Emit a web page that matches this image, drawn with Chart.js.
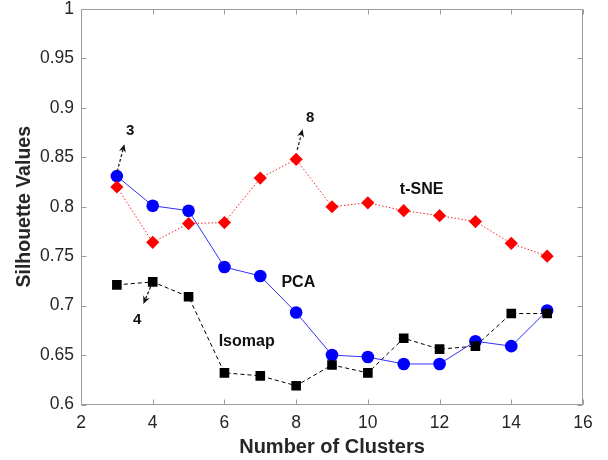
<!DOCTYPE html>
<html>
<head>
<meta charset="utf-8">
<script src="https://cdn.jsdelivr.net/npm/chart.js@4.4.1/dist/chart.umd.min.js"></script>
<style>
  html, body { margin: 0; padding: 0; background: #fff; }
  #wrap { width: 608px; height: 460px; }
</style>
</head>
<body>
<div id="wrap"><canvas id="chart" width="608" height="460"></canvas></div>
<script>
// values
const clusters = [3, 4, 5, 6, 7, 8, 9, 10, 11, 12, 13, 14, 15];
const pca    = [0.831, 0.801, 0.796, 0.739, 0.730, 0.693, 0.650, 0.648, 0.641, 0.641, 0.664, 0.659, 0.695];
const tsne   = [0.820, 0.764, 0.783, 0.784, 0.829, 0.848, 0.800, 0.804, 0.796, 0.791, 0.785, 0.763, 0.750];
const isomap = [0.721, 0.724, 0.709, 0.632, 0.629, 0.619, 0.640, 0.632, 0.667, 0.656, 0.659, 0.692, 0.692];
const xTickValues = [2, 4, 6, 8, 10, 12, 14, 16];
const yTickValues = [0.6, 0.65, 0.7, 0.75, 0.8, 0.85, 0.9, 0.95, 1];

// text notes and arrows, in data coordinates
const notes = [
  { text: "t-SNE", x: 11.5, y: 0.8177, size: 16 },
  { text: "PCA", x: 8.06, y: 0.7233, size: 16 },
  { text: "Isomap", x: 6.62, y: 0.6636, size: 16 },
  { text: "3", x: 3.37, y: 0.8768, size: 15 },
  { text: "8", x: 8.39, y: 0.8896, size: 15 },
  { text: "4", x: 3.57, y: 0.6853, size: 15 },
];
const arrows = [
  { from: [3.01, 0.8356], to: [3.21, 0.8633] },
  { from: [8.03, 0.8575], to: [8.18, 0.8785] },
  { from: [3.94, 0.7190], to: [3.74, 0.7016] },
];

const FONT = "'Liberation Sans', Arial, Helvetica, sans-serif";
Chart.defaults.font.family = FONT;

const toPoints = (ys) => clusters.map((x, i) => ({ x, y: ys[i] }));

const boxAndNotes = {
  id: "boxAndNotes",
  beforeDatasetsDraw(chart) {
    const { ctx, chartArea: a, scales: { x, y } } = chart;
    ctx.save();
    ctx.strokeStyle = "#9c9c9c";
    ctx.lineWidth = 1;
    const L = Math.round(a.left) + 0.5, R = Math.round(a.right) - 0.5;
    const T = Math.round(a.top) + 0.5, B = Math.round(a.bottom) - 0.5;
    ctx.strokeRect(L, T, R - L, B - T);
    ctx.beginPath();
    xTickValues.forEach((v) => {
      const px = Math.round(x.getPixelForValue(v)) + 0.5;
      ctx.moveTo(px, B); ctx.lineTo(px, B - 5);
      ctx.moveTo(px, T); ctx.lineTo(px, T + 5);
    });
    yTickValues.forEach((v) => {
      const py = Math.round(y.getPixelForValue(v)) + 0.5;
      ctx.moveTo(L, py); ctx.lineTo(L + 5, py);
      ctx.moveTo(R, py); ctx.lineTo(R - 5, py);
    });
    ctx.stroke();
    ctx.restore();
  },
  afterDatasetsDraw(chart) {
    const { ctx, scales: { x, y } } = chart;
    ctx.save();
    ctx.fillStyle = "#111";
    ctx.strokeStyle = "#111";
    ctx.textAlign = "center";
    ctx.textBaseline = "middle";
    notes.forEach((n) => {
      ctx.font = "bold " + n.size + "px " + FONT;
      ctx.fillText(n.text, x.getPixelForValue(n.x), y.getPixelForValue(n.y));
    });
    arrows.forEach((ar) => {
      const x0 = x.getPixelForValue(ar.from[0]), y0 = y.getPixelForValue(ar.from[1]);
      const x1 = x.getPixelForValue(ar.to[0]), y1 = y.getPixelForValue(ar.to[1]);
      const ang = Math.atan2(y1 - y0, x1 - x0);
      ctx.lineWidth = 1.2;
      ctx.setLineDash([3, 2]);
      ctx.beginPath();
      ctx.moveTo(x0, y0);
      ctx.lineTo(x1 - 5 * Math.cos(ang), y1 - 5 * Math.sin(ang));
      ctx.stroke();
      ctx.setLineDash([]);
      ctx.beginPath();
      ctx.moveTo(x1, y1);
      ctx.lineTo(x1 - 8 * Math.cos(ang) + 3.5 * Math.sin(ang), y1 - 8 * Math.sin(ang) - 3.5 * Math.cos(ang));
      ctx.lineTo(x1 - 5.5 * Math.cos(ang), y1 - 5.5 * Math.sin(ang));
      ctx.lineTo(x1 - 8 * Math.cos(ang) - 3.5 * Math.sin(ang), y1 - 8 * Math.sin(ang) + 3.5 * Math.cos(ang));
      ctx.closePath();
      ctx.fill();
    });
    ctx.restore();
  },
};

new Chart(document.getElementById("chart"), {
  type: "line",
  data: {
    datasets: [
      {
        label: "Isomap", data: toPoints(isomap),
        borderColor: "#000", backgroundColor: "#000", borderWidth: 1, borderDash: [4, 3],
        pointStyle: "rect", pointRadius: 6.8, pointBorderWidth: 0, tension: 0,
      },
      {
        label: "t-SNE", data: toPoints(tsne),
        borderColor: "#ff2020", backgroundColor: "#ff0000", borderWidth: 1, borderDash: [1.5, 2],
        pointStyle: "rectRot", pointRadius: 6.6, pointBorderWidth: 0, tension: 0,
      },
      {
        label: "PCA", data: toPoints(pca),
        borderColor: "#3030ff", backgroundColor: "#0000ff", borderWidth: 1,
        pointStyle: "circle", pointRadius: 6.3, pointBorderWidth: 0, tension: 0,
      },
    ],
  },
  options: {
    responsive: false,
    animation: false,
    layout: { padding: { top: 9, right: 25, left: 0, bottom: 0 } },
    plugins: { legend: { display: false }, tooltip: { enabled: false } },
    scales: {
      x: {
        type: "linear", min: 2, max: 16,
        afterBuildTicks: (s) => { s.ticks = xTickValues.map((value) => ({ value })); },
        afterFit: (s) => { s.height = 55.5; s.paddingLeft = 0; s.paddingRight = 0; },
        grid: { display: false, drawTicks: false },
        border: { display: false },
        ticks: { color: "#262626", font: { size: 17.5 }, padding: 8, maxRotation: 0 },
        title: { display: true, text: "Number of Clusters", color: "#262626", font: { size: 20, weight: "bold" }, padding: { top: 0, bottom: 1 } },
      },
      y: {
        type: "linear", min: 0.6, max: 1,
        afterBuildTicks: (s) => { s.ticks = yTickValues.map((value) => ({ value })); },
        afterFit: (s) => { s.width = 81; s.paddingTop = 0; s.paddingBottom = 0; },
        grid: { display: false, drawTicks: false },
        border: { display: false },
        ticks: { color: "#262626", font: { size: 17.5 }, padding: 7, callback: (v) => String(Number(v.toFixed(2))) },
        title: { display: true, text: "Silhouette Values", color: "#262626", font: { size: 19.5, weight: "bold" }, padding: { top: 13, bottom: 0 } },
      },
    },
  },
  plugins: [boxAndNotes],
});
</script>
</body>
</html>
